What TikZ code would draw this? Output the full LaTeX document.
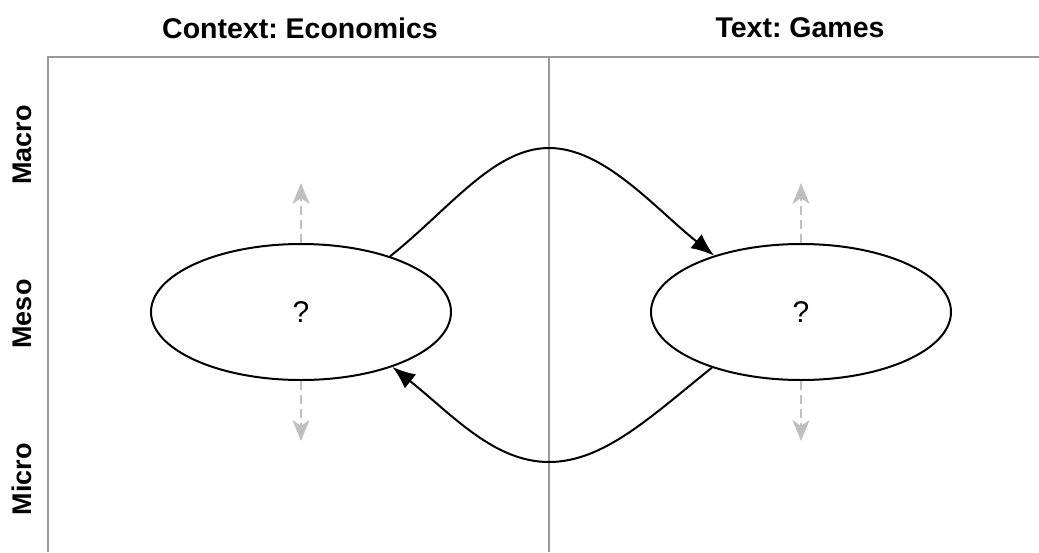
\documentclass[tikz,border=0pt]{standalone}
\usepackage{fontspec}
\setmainfont{Liberation Sans}
\usetikzlibrary{shapes.geometric, arrows.meta, positioning}
\frenchspacing

\begin{document}
\begin{tikzpicture}[x=1pt, y=-1pt,
    head/.style={font=\fontsize{28.5}{34}\selectfont\bfseries},
    lvl/.style={font=\fontsize{27}{32}\selectfont\bfseries, rotate=90},
    blob/.style={ellipse, draw, line width=2pt, minimum width=300pt,
                 minimum height=136pt, inner sep=0pt, font=\fontsize{30}{36}\selectfont},
    frame/.style={draw=black!40, line width=2.2pt},
    link/.style={line width=2pt, -{Latex[length=23pt,width=18pt]}},
    drift/.style={draw=black!25, line width=2.2pt, dash pattern=on 9pt off 5pt,
                  -{Stealth[length=21pt,width=17pt,inset=6pt]}}]
    \useasboundingbox (0,0) rectangle (1039,552);
    \draw[frame] (48,552) -- (48,57) -- (1039,57);
    \draw[frame] (549,57) -- (549,552);
    \node[head] (ctx) at (300,28) {Context: Economics};
    \node[head] (txt) at (800,28) {Text: Games};
    \node[lvl] (macro) at (22,145) {Macro};
    \node[lvl] (meso) at (22,314) {Meso};
    \node[lvl] (micro) at (22,479) {Micro};
    \node[blob] (econ) at (301,312) {?};
    \node[blob] (games) at (801,312) {?};
    \draw[drift] (econ.north) -- +(0,-60);
    \draw[drift] (econ.south) -- +(0,60);
    \draw[drift] (games.north) -- +(0,-60);
    \draw[drift] (games.south) -- +(0,60);
    \coordinate (peak) at (549,148);
    \coordinate (dip) at (549,462);
    \draw[link] (econ.32) .. controls +(60,-48) and +(-55,0) .. (peak)
      .. controls +(55,0) and +(-60,-48) .. (games.147);
    \draw[link] (games.212) .. controls +(-60,48) and +(55,0) .. (dip)
      .. controls +(-55,0) and +(60,48) .. (econ.-31);
  \end{tikzpicture}
\end{document}
